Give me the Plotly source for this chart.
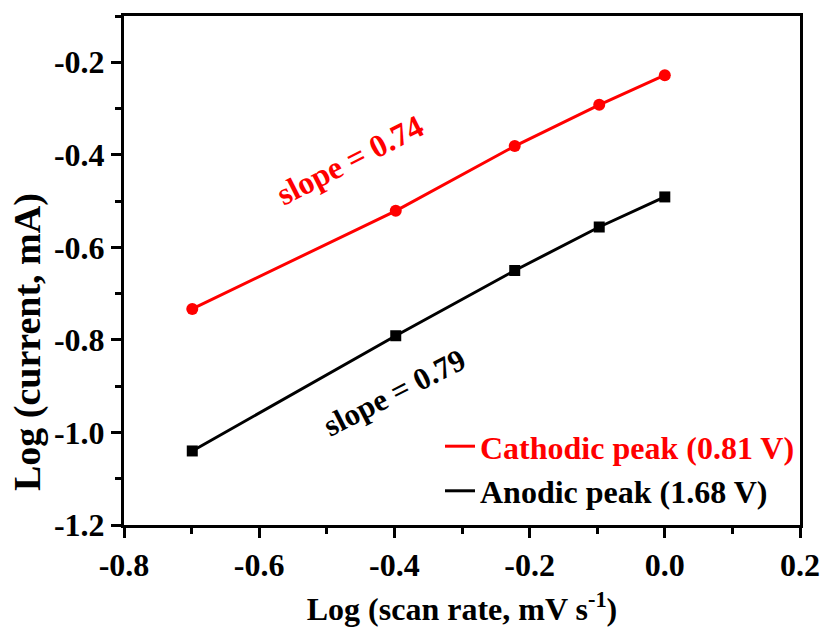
import plotly.graph_objects as go

scan_log = [-0.699, -0.398, -0.222, -0.097, 0.0]
cathodic = [-0.733, -0.521, -0.381, -0.292, -0.228]
anodic = [-1.040, -0.791, -0.650, -0.556, -0.491]

x_ticks = [-0.8, -0.6, -0.4, -0.2, 0.0, 0.2]
x_ticktext = ["-0.8", "-0.6", "-0.4", "-0.2", "0.0", "0.2"]
y_ticks = [-1.2, -1.0, -0.8, -0.6, -0.4, -0.2]
y_ticktext = ["-1.2", "-1.0", "-0.8", "-0.6", "-0.4", "-0.2"]

cath_name = "Cathodic peak (0.81 V)"
anod_name = "Anodic peak (1.68 V)"
x_title = "Log (scan rate, mV s<sup>-1</sup>)"
y_title = "Log (current, mA)"
RED = "#ff0000"
BLACK = "#000000"
FONT = "Liberation Serif"

fig = go.Figure()
fig.add_trace(go.Scatter(x=scan_log, y=cathodic, mode="lines+markers",
                         line=dict(color=RED, width=3),
                         marker=dict(symbol="circle", size=12, color=RED),
                         showlegend=False))
fig.add_trace(go.Scatter(x=scan_log, y=anodic, mode="lines+markers",
                         line=dict(color=BLACK, width=3),
                         marker=dict(symbol="square", size=11, color=BLACK),
                         showlegend=False))
# legend entries (line only)
fig.add_trace(go.Scatter(x=[None], y=[None], mode="lines",
                         line=dict(color=RED, width=3),
                         name=f"<span style='color:{RED}'><b>{cath_name}</b></span>"))
fig.add_trace(go.Scatter(x=[None], y=[None], mode="lines",
                         line=dict(color=BLACK, width=3),
                         name=f"<b>{anod_name}</b>"))

fig.add_annotation(x=-0.466, y=-0.411, text="<b>slope = 0.74</b>", showarrow=False,
                   textangle=-27, font=dict(family=FONT, size=32, color=RED))
fig.add_annotation(x=-0.40, y=-0.913, text="<b>slope = 0.79</b>", showarrow=False,
                   textangle=-27, font=dict(family=FONT, size=31, color=BLACK))
# y-axis title (placed as annotation to match its off-centre position)
fig.add_annotation(xref="paper", yref="paper", x=-0.143, y=0.36,
                   xanchor="center", yanchor="middle", textangle=-90,
                   text=f"<b>{y_title}</b>", showarrow=False,
                   font=dict(family=FONT, size=38, color="black"))

axis_common = dict(showline=True, linewidth=3, linecolor="black", mirror=True,
                   ticks="outside", ticklen=10, tickwidth=3, tickcolor="black",
                   showgrid=False, zeroline=False,
                   tickfont=dict(family=FONT, size=32, color="black", weight="bold"))

fig.update_xaxes(range=[-0.8, 0.2], tickmode="array", tickvals=x_ticks, ticktext=x_ticktext,
                 minor=dict(ticks="outside", ticklen=6, tickwidth=3, tickcolor="black", dtick=0.1, tick0=-0.8),
                 title=dict(text=f"<b>{x_title}</b>", standoff=16,
                            font=dict(family=FONT, size=32, color="black")),
                 **axis_common)
fig.update_yaxes(range=[-1.2, -0.1], tickmode="array", tickvals=y_ticks, ticktext=y_ticktext,
                 minor=dict(ticks="outside", ticklen=6, tickwidth=3, tickcolor="black", dtick=0.1, tick0=-1.2),
                 **axis_common)

fig.update_layout(width=832, height=635, plot_bgcolor="white", paper_bgcolor="white",
                  margin=dict(l=124, r=23, t=16, b=110),
                  legend=dict(x=1.0, y=0.012, xanchor="right", yanchor="bottom",
                              bgcolor="rgba(0,0,0,0)", tracegroupgap=0,
                              font=dict(family=FONT, size=32, color="black")))

fig.write_html("out.html")
